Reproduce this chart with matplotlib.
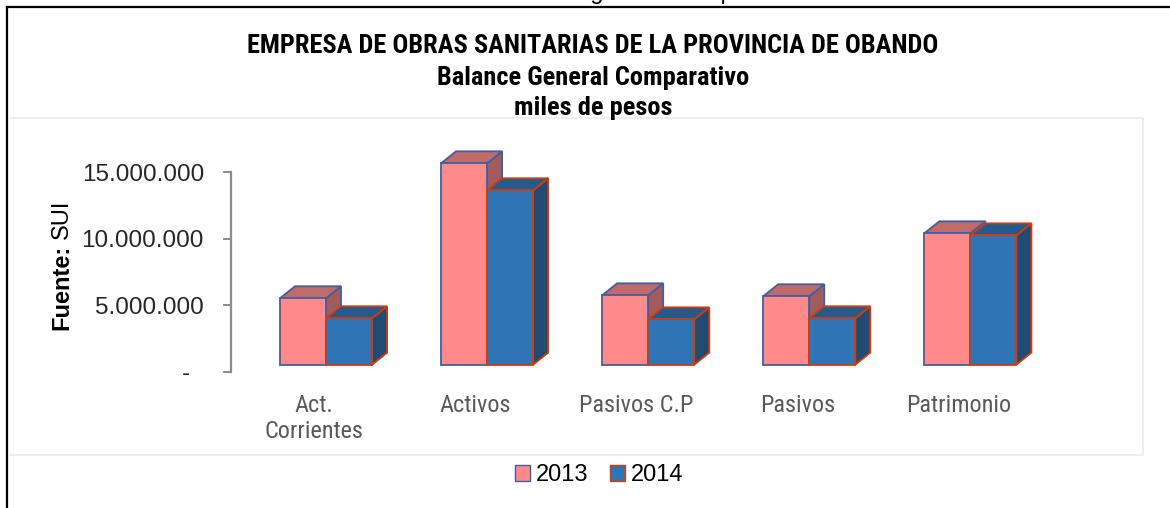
import matplotlib
matplotlib.use("Agg")
import matplotlib.pyplot as plt
import matplotlib.transforms as mtrans
from matplotlib.patches import Polygon, Patch
from matplotlib.lines import Line2D

# data (miles de pesos)
categorias = ["Act.\nCorrientes", "Activos", "Pasivos C.P", "Pasivos", "Patrimonio"]
anios = ["2013", "2014"]
valores_2013 = [4.98e6, 15.1e6, 5.2e6, 5.13e6, 9.85e6]
valores_2014 = [3.48e6, 13.08e6, 3.4e6, 3.48e6, 9.7e6]
yticks = [0, 5e6, 10e6, 15e6]
ytick_labels = ["-  ", "5.000.000", "10.000.000", "15.000.000"]

titulo = "EMPRESA DE OBRAS SANITARIAS DE LA PROVINCIA DE OBANDO"
subtitulo = "Balance General Comparativo"
unidades = "miles de pesos"

W, H = 1170, 508
FAM = ["Liberation Sans", "DejaVu Sans"]
NARROW = ["Roboto Condensed", "Liberation Sans", "DejaVu Sans"]

def fx(px):
    return px / W

def fy(py):
    return 1 - py / H

fig = plt.figure(figsize=(W / 100, H / 100), dpi=100)
fig.patch.set_facecolor("white")

# outer frame (black) and the caption that is cut off above it
fig.add_artist(Line2D([fx(7), fx(7)], [fy(7), 0], color="black", lw=1.6))
fig.add_artist(Line2D([fx(7), 1], [fy(7), fy(7)], color="black", lw=1.6))
fig.text(fx(597), fy(-1), "Gráfico 7. Balance general comparativo", ha="center", va="baseline",
         fontsize=17, family=FAM)

# plot area frame (light gray)
gris = "#EBEBEB"
fig.add_artist(Line2D([fx(10), fx(1143), fx(1143), fx(10)],
                      [fy(118), fy(118), fy(455), fy(455)], color=gris, lw=1.2))

# titles
tfont = dict(ha="center", va="baseline", fontsize=19, fontweight="bold", family=NARROW)
fig.text(fx(593), fy(53), titulo, **tfont)
fig.text(fx(593), fy(85), subtitulo, **tfont)
fig.text(fx(593), fy(115), unidades, **tfont)

# axes
ax = fig.add_axes([fx(231), fy(372), fx(1067) - fx(231), (372 - 172) / H])
ax.set_xlim(-0.59, 4.6)
ax.set_ylim(0, 15e6)
ax.patch.set_alpha(0)
for s in ["top", "right", "bottom"]:
    ax.spines[s].set_visible(False)
ax.spines["left"].set_color("#8C8C8C")
ax.spines["left"].set_linewidth(1.6)

w = 0.286            # bar width (data units)
dx = 15 / 161        # depth offset in x
dy = 0.9e6           # depth offset in y
base = 0.55e6        # floor

estilos = [
    dict(front="#FF8A8A", top="#C16A6A", side="#A35B5B", edge="#3F5FA5"),
    dict(front="#2E75B6", top="#245B8C", side="#1F4B74", edge="#D63A0A"),
]

def barra3d(x, v, st):
    y0, y1 = base, base + v
    side = [(x + w, y0), (x + w + dx, y0 + dy), (x + w + dx, y1 + dy), (x + w, y1)]
    top = [(x, y1), (x + dx, y1 + dy), (x + w + dx, y1 + dy), (x + w, y1)]
    front = [(x, y0), (x + w, y0), (x + w, y1), (x, y1)]
    for pts, fc in [(side, st["side"]), (top, st["top"]), (front, st["front"])]:
        ax.add_patch(Polygon(pts, closed=True, facecolor=fc, edgecolor=st["edge"],
                             lw=1.3, joinstyle="miter", clip_on=False))

for i in range(len(categorias)):
    barra3d(i - w, valores_2013[i], estilos[0])
    barra3d(i, valores_2014[i], estilos[1])

# y axis
ax.set_yticks(yticks)
ax.set_yticklabels(ytick_labels, fontsize=17.5, color="#262626", family=FAM)
ax.tick_params(axis="y", length=6, width=1.4, color="#8C8C8C", pad=13.5)

# x axis
ax.set_xticks(range(len(categorias)))
ax.set_xticklabels(categorias, fontsize=17.5, color="#595959", family=NARROW, linespacing=1.15)
ax.tick_params(axis="x", length=0, pad=16)
shift = mtrans.ScaledTranslation(-12 / 100, 0, fig.dpi_scale_trans)
for lab in ax.get_xticklabels():
    lab.set_transform(lab.get_transform() + shift)

# y label: "Fuente:" bold + " SUI"
t1 = fig.text(fx(62), fy(330), "Fuente:", rotation=90, rotation_mode="anchor",
              ha="left", va="center", fontsize=17, fontweight="bold", family=FAM)
fig.canvas.draw()
bb = t1.get_window_extent()
fig.text(fx(62), (bb.y1 + 6) / H, "SUI", rotation=90, rotation_mode="anchor",
         ha="left", va="center", fontsize=17, family=FAM)

# legend
handles = [Patch(facecolor=st["front"], edgecolor=st["edge"], lw=1.0) for st in estilos]
fig.legend(handles, anios, loc="center", bbox_to_anchor=(fx(599), fy(475)), ncol=2,
           frameon=False, handlelength=0.65, handleheight=0.65,
           handletextpad=0.25, columnspacing=0.9,
           prop=dict(family=FAM, size=17))

fig.savefig("out.png", dpi=100)
